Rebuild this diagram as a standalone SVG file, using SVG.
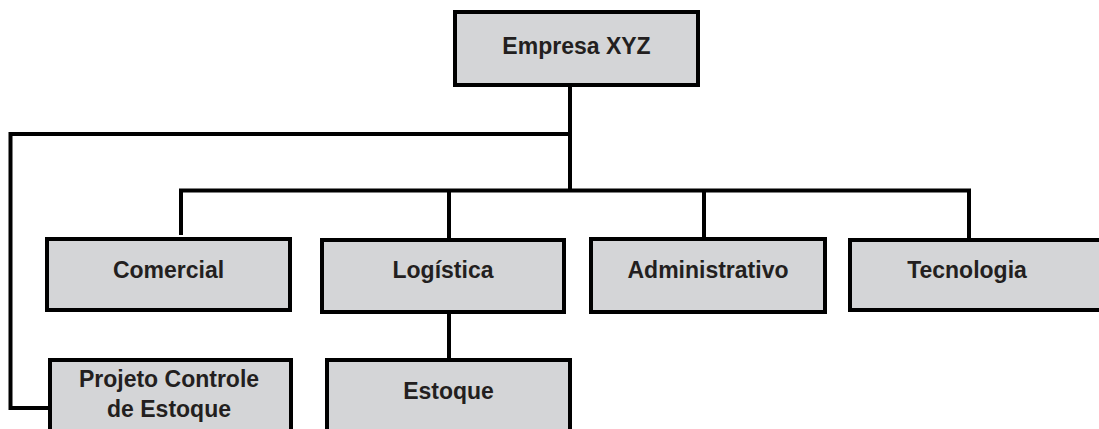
<svg xmlns="http://www.w3.org/2000/svg" width="1099" height="429" viewBox="0 0 1099 429">
  <style>
    .box { fill: #d4d5d7; stroke: #000; stroke-width: 4; }
    .lbl { font-family: "Liberation Sans", Arial, sans-serif; font-weight: bold; font-size: 23px; fill: #231f20; text-anchor: middle; }
    .wire { fill: none; stroke: #000; stroke-width: 4; stroke-linejoin: miter; }
  </style>
  <rect width="1099" height="429" fill="#fff"/>

  <g id="connectors">
    <path class="wire" d="M570,85 V190.5"/>
    <path class="wire" d="M570,134 H10.5 V408 H48"/>
    <path class="wire" d="M181,235 V190.5 H969 V238"/>
    <path class="wire" d="M449,190.5 V238"/>
    <path class="wire" d="M704,190.5 V237"/>
    <path class="wire" d="M449,314 V358"/>
  </g>

  <g id="empresa">
    <rect class="box" x="455" y="12" width="243" height="73"/>
    <text class="lbl" x="576.5" y="54">Empresa XYZ</text>
  </g>
  <g id="comercial">
    <rect class="box" x="47" y="239" width="243" height="71"/>
    <text class="lbl" x="168.5" y="278">Comercial</text>
  </g>
  <g id="logistica">
    <rect class="box" x="322" y="240" width="242" height="72"/>
    <text class="lbl" x="443" y="278">Logística</text>
  </g>
  <g id="administrativo">
    <rect class="box" x="591" y="239" width="234" height="73"/>
    <text class="lbl" x="708" y="278">Administrativo</text>
  </g>
  <g id="tecnologia">
    <rect class="box" x="850" y="240" width="260" height="70"/>
    <text class="lbl" x="967" y="278">Tecnologia</text>
  </g>
  <g id="projeto">
    <rect class="box" x="50" y="360" width="241" height="80"/>
    <text class="lbl" x="169" y="387">Projeto Controle</text>
    <text class="lbl" x="169" y="417">de Estoque</text>
  </g>
  <g id="estoque">
    <rect class="box" x="327" y="360" width="243" height="80"/>
    <text class="lbl" x="448.5" y="399">Estoque</text>
  </g>
</svg>
